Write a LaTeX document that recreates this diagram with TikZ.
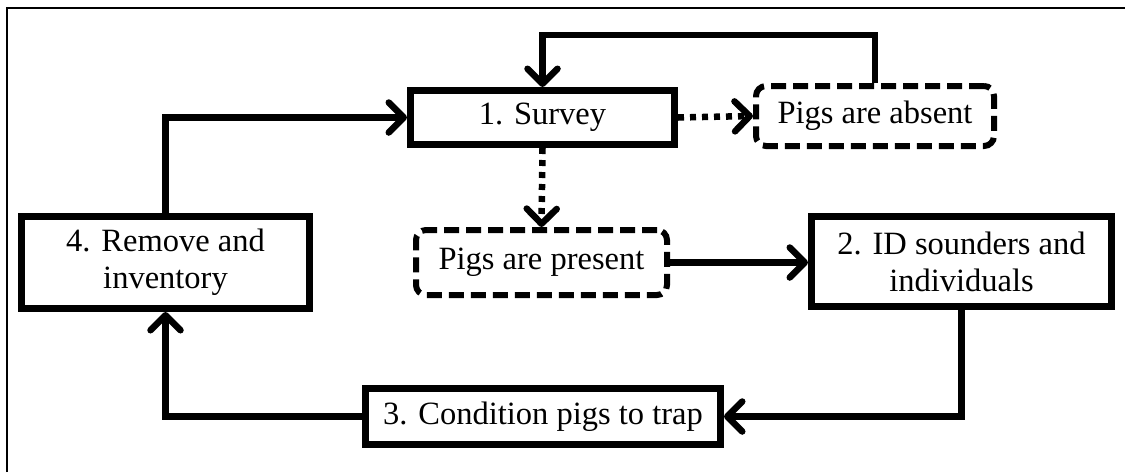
\documentclass[tikz,border=0pt]{standalone}
\usepackage{fontspec}
\setmainfont{Liberation Serif}
\usetikzlibrary{arrows.meta}
\begin{document}
\begin{tikzpicture}[x=1pt,y=-1pt,
  every node/.style={font=\fontsize{32.5}{36.8}\selectfont, align=center, inner sep=0pt},
  solidbox/.style={draw, line width=7pt, minimum width=#1},
  dashbox/.style={draw, line width=6pt, rounded corners=10pt, dash pattern=on 15pt off 7pt, minimum width=#1},
  arr/.style={line width=6.5pt, -{Straight Barb[length=15pt,width=30pt,line cap=round,line join=round]}},
  dotarr/.style={arr, dash pattern=on 6pt off 6pt}
]
\useasboundingbox (0,0) rectangle (1125,472);
\draw[line width=2.5pt] (7,472) -- (7,8) -- (1125,8);

\node[solidbox=264pt, minimum height=54pt] (survey) at (542.5,117.5) {1. Survey};
\node[dashbox=238pt, minimum height=60pt] (absent) at (875,116) {Pigs are absent};
\node[dashbox=251pt, minimum height=65pt] (present) at (541.5,262.5) {Pigs are present};
\node[solidbox=300pt, minimum height=90pt] (id) at (961.5,261.5) {2. ID sounders and\\individuals};
\node[solidbox=355pt, minimum height=56pt] (cond) at (543,416.5) {3. Condition pigs to trap};
\node[solidbox=288pt, minimum height=92pt] (remove) at (165.5,262.5) {4. Remove and\\inventory};

\coordinate (toprow) at (700,35);

\draw[arr] (absent.north) |- (toprow) -| (survey.north);
\draw[dotarr] (survey.east) -- (absent.west);
\draw[dotarr] (survey.south) -- (present.north);
\draw[arr] (present.east) -- (present.east -| id.west);
\draw[arr] (id.south) |- (cond.east);
\draw[arr] (cond.west) -| (remove.south);
\draw[arr] (remove.north) |- (survey.west);
\end{tikzpicture}
\end{document}
